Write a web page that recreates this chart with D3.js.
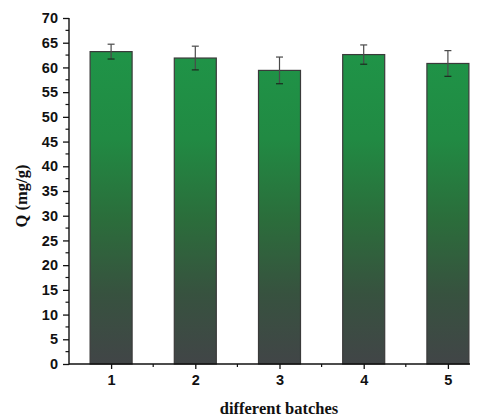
<!DOCTYPE html>
<html>
<head>
<meta charset="utf-8">
<script src="https://cdn.jsdelivr.net/npm/d3@7/dist/d3.min.js"></script>
<style>
  html, body { margin: 0; padding: 0; background: #fff; }
  svg { display: block; }
</style>
</head>
<body>
<svg id="chart" width="479" height="417"></svg>
<script>
// Adsorption capacity for repeated batches
const batches = [1, 2, 3, 4, 5];
const capacity = [63.2, 61.9, 59.4, 62.6, 60.8];
const errors = [1.5, 2.4, 2.7, 1.95, 2.6];
const yTicks = [0, 5, 10, 15, 20, 25, 30, 35, 40, 45, 50, 55, 60, 65, 70];

const svg = d3.select("#chart");
const margin = { left: 69, top: 18, bottom: 53 };
const height = 417;
const x0 = margin.left, y0 = height - margin.bottom;

const x = d3.scaleLinear().domain([0.5, 5.5]).range([x0, x0 + 421]);
const y = d3.scaleLinear().domain([0, 70]).range([y0, margin.top]);
const barW = 42;

// vertical gradient: green at top fading to slate gray at the base
const defs = svg.append("defs");
const grad = defs.append("linearGradient")
  .attr("id", "barFill")
  .attr("gradientUnits", "userSpaceOnUse")
  .attr("x1", 0).attr("x2", 0)
  .attr("y1", y(65)).attr("y2", y(0));
grad.append("stop").attr("offset", "0%").attr("stop-color", "#1f9548");
grad.append("stop").attr("offset", "30%").attr("stop-color", "#218a43");
grad.append("stop").attr("offset", "55%").attr("stop-color", "#2b6d3b");
grad.append("stop").attr("offset", "78%").attr("stop-color", "#37523f");
grad.append("stop").attr("offset", "100%").attr("stop-color", "#414547");

// bars
svg.append("g").selectAll("rect")
  .data(batches)
  .join("rect")
  .attr("x", (d) => x(d) - barW / 2)
  .attr("y", (d, i) => y(capacity[i]))
  .attr("width", barW)
  .attr("height", (d, i) => y0 - y(capacity[i]))
  .attr("fill", "url(#barFill)")
  .attr("stroke", "#3a3a3a")
  .attr("stroke-width", 1.2);

// error bars
const eb = svg.append("g")
  .attr("stroke", "#4a4a4a")
  .attr("stroke-width", 1.2);
batches.forEach((d, i) => {
  const cx = x(d);
  const hi = y(capacity[i] + errors[i]);
  const lo = y(capacity[i] - errors[i]);
  eb.append("line").attr("x1", cx).attr("x2", cx).attr("y1", hi).attr("y2", lo);
  eb.append("line").attr("x1", cx - 3.5).attr("x2", cx + 3.5).attr("y1", hi).attr("y2", hi);
  eb.append("line").attr("x1", cx - 3.5).attr("x2", cx + 3.5).attr("y1", lo).attr("y2", lo)
    .attr("stroke", "#1a2a1e");
});

const tickFont = (sel) => sel
  .attr("font-family", "'Liberation Sans', Arial, sans-serif")
  .attr("font-weight", "bold")
  .attr("font-size", "14.5px")
  .attr("fill", "#111");

// y axis
const yAxis = d3.axisLeft(y)
  .tickValues(yTicks)
  .tickSize(6)
  .tickPadding(5);
const gy = svg.append("g")
  .attr("transform", `translate(${x0},0)`)
  .call(yAxis);
gy.select(".domain").remove();
gy.selectAll(".tick line").attr("stroke", "#111").attr("stroke-width", 1.3);
gy.selectAll("text").call(tickFont);
// minor ticks on y
const yMinor = d3.range(2.5, 70, 5);
svg.append("g").selectAll("line")
  .data(yMinor)
  .join("line")
  .attr("x1", x0 - 3.5).attr("x2", x0)
  .attr("y1", (d) => y(d)).attr("y2", (d) => y(d))
  .attr("stroke", "#111").attr("stroke-width", 1.2);
svg.append("line")
  .attr("x1", x0).attr("x2", x0)
  .attr("y1", y(70)).attr("y2", y0 + 0.5)
  .attr("stroke", "#111").attr("stroke-width", 1.4);

// x axis
const xAxis = d3.axisBottom(x)
  .tickValues(batches)
  .tickFormat(d3.format("d"))
  .tickSize(5)
  .tickPadding(6);
const gx = svg.append("g")
  .attr("transform", `translate(0,${y0})`)
  .call(xAxis);
gx.select(".domain").remove();
gx.selectAll(".tick line").attr("stroke", "#111").attr("stroke-width", 1.3);
gx.selectAll("text").call(tickFont);
const xMinor = [1.5, 2.5, 3.5, 4.5];
svg.append("g").selectAll("line")
  .data(xMinor)
  .join("line")
  .attr("x1", (d) => x(d)).attr("x2", (d) => x(d))
  .attr("y1", y0).attr("y2", y0 + 3)
  .attr("stroke", "#111").attr("stroke-width", 1.2);
svg.append("line")
  .attr("x1", x0).attr("x2", 470)
  .attr("y1", y0).attr("y2", y0)
  .attr("stroke", "#111").attr("stroke-width", 1.4);

// axis titles
svg.append("text")
  .attr("x", 279).attr("y", 414)
  .attr("text-anchor", "middle")
  .attr("font-family", "'Liberation Serif', 'Times New Roman', serif")
  .attr("font-weight", "bold")
  .attr("font-size", "16.5px")
  .attr("fill", "#111")
  .text("different batches");

svg.append("text")
  .attr("transform", "translate(27,196) rotate(-90)")
  .attr("text-anchor", "middle")
  .attr("font-family", "'Liberation Serif', 'Times New Roman', serif")
  .attr("font-weight", "bold")
  .attr("font-size", "16.5px")
  .attr("fill", "#111")
  .text("Q (mg/g)");
</script>
</body>
</html>
